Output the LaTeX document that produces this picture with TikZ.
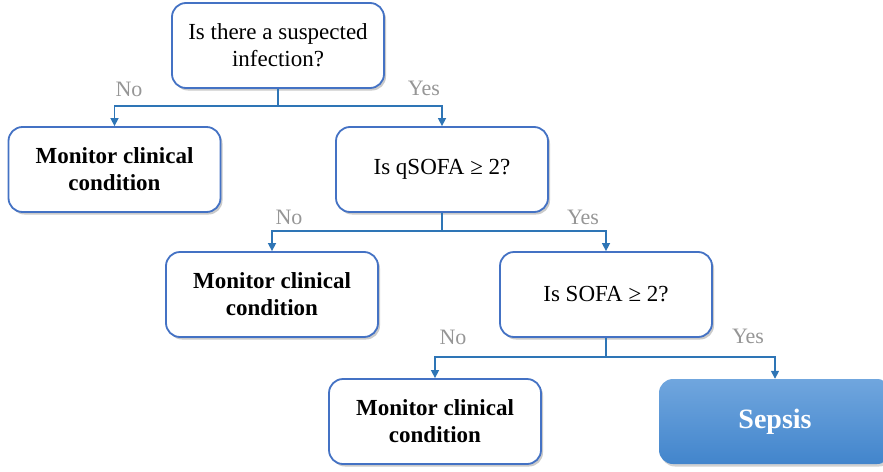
\documentclass[tikz,border=0pt]{standalone}
\usepackage{fontspec}
\setmainfont{Liberation Serif}
\usetikzlibrary{shadows,arrows.meta}
\definecolor{boxblue}{RGB}{68,114,196}
\definecolor{linkblue}{RGB}{46,117,182}
\definecolor{lblgray}{RGB}{150,150,150}
\definecolor{septop}{RGB}{112,166,222}
\definecolor{sepbot}{RGB}{66,133,204}
\tikzset{
  qbox/.style={rectangle, rounded corners=14pt, draw=boxblue, line width=1.8pt, fill=white,
    minimum width=212pt, minimum height=85pt, align=center,
    font=\fontsize{23}{27}\selectfont,
    drop shadow={shadow xshift=2pt, shadow yshift=-2.5pt, opacity=0.35, fill=black!60}},
  mbox/.style={qbox, font=\fontsize{23}{27}\selectfont\bfseries},
  sbox/.style={rectangle, rounded corners=14pt, top color=septop, bottom color=sepbot, draw=none,
    minimum width=232pt, minimum height=85pt, text=white, font=\fontsize{28}{32}\selectfont\bfseries,
    drop shadow={shadow xshift=2pt, shadow yshift=-2.5pt, opacity=0.3, fill=black!60}},
  link/.style={draw=linkblue, line width=1.5pt},
  arr/.style={link, -{Triangle[length=8pt,width=8pt]}},
  lbl/.style={text=lblgray, font=\fontsize{22}{26}\selectfont}
}
\begin{document}
\begin{tikzpicture}[x=1pt,y=-1pt]
\useasboundingbox (0,0) rectangle (883,471);
\clip (0,0) rectangle (883,471);
\node[qbox] (q1) at (278,45.5) {Is there a suspected\\infection?};
\node[mbox] (m1) at (114.5,169.5) {Monitor clinical\\condition};
\node[qbox] (q2) at (442,169.5) {\raisebox{-3pt}{Is qSOFA ≥ 2?}};
\node[mbox] (m2) at (272,294.5) {Monitor clinical\\condition};
\node[qbox] (q3) at (606,294.5) {\raisebox{-3pt}{Is SOFA ≥ 2?}};
\node[mbox] (m3) at (435,421.5) {Monitor clinical\\condition};
\node[sbox] (s) at (775,421.5) {\raisebox{-3pt}{Sepsis}};
\coordinate (j1) at (278,106);
\coordinate (j2) at (442,231);
\coordinate (j3) at (606,357);
\draw[link] (q1.south) -- (j1);
\draw[arr] (j1) -| (m1.north);
\draw[arr] (j1) -| (q2.north);
\draw[link] (q2.south) -- (j2);
\draw[arr] (j2) -| (m2.north);
\draw[arr] (j2) -| (q3.north);
\draw[link] (q3.south) -- (j3);
\draw[arr] (j3) -| (m3.north);
\draw[arr] (j3) -| (s.north);
\node[lbl] (n1) at (129,89) {No};
\node[lbl] (y1) at (424,88) {Yes};
\node[lbl] (n2) at (289,217) {No};
\node[lbl] (y2) at (583,217) {Yes};
\node[lbl] (n3) at (453,337) {No};
\node[lbl] (y3) at (748,336) {Yes};
\end{tikzpicture}
\end{document}
